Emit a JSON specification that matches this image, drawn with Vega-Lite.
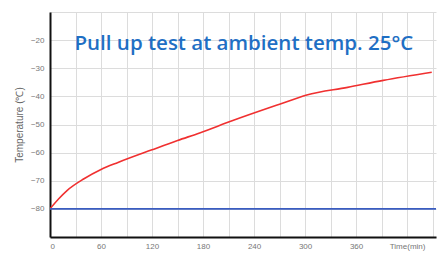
{
  "$schema": "https://vega.github.io/schema/vega-lite/v6.json",
  "width": 386,
  "height": 225,
  "autosize": {"type": "none"},
  "padding": {"left": 50, "top": 12, "right": 6, "bottom": 19},
  "background": "white",
  "config": {"view": {"stroke": null}, "axis": {"labelOverlap": false}},
  "datasets": {
    "curves": [
      {"t": 0, "temp": -80, "series": "Pull up"},
      {"t": 10, "temp": -76.5, "series": "Pull up"},
      {"t": 20, "temp": -73.5, "series": "Pull up"},
      {"t": 40, "temp": -69.3, "series": "Pull up"},
      {"t": 60, "temp": -66, "series": "Pull up"},
      {"t": 80, "temp": -63.5, "series": "Pull up"},
      {"t": 120, "temp": -59, "series": "Pull up"},
      {"t": 150, "temp": -55.7, "series": "Pull up"},
      {"t": 176, "temp": -53, "series": "Pull up"},
      {"t": 215, "temp": -48.6, "series": "Pull up"},
      {"t": 270, "temp": -42.8, "series": "Pull up"},
      {"t": 302, "temp": -39.5, "series": "Pull up"},
      {"t": 350, "temp": -36.8, "series": "Pull up"},
      {"t": 392, "temp": -34.3, "series": "Pull up"},
      {"t": 449, "temp": -31.4, "series": "Pull up"},
      {"t": 0, "temp": -80, "series": "Set"},
      {"t": 454, "temp": -80, "series": "Set"}
    ],
    "label": [
      {"t": 228, "temp": -21.4, "text": "Pull up test at ambient temp. 25°C"}
    ]
  },
  "encoding": {
    "x": {
      "field": "t", "type": "quantitative",
      "scale": {"domain": [0, 454], "nice": false, "zero": false},
      "axis": {
        "title": null,
        "values": [0, 30, 60, 90, 120, 150, 180, 210, 240, 270, 300, 330, 360, 390, 420, 450],
        "labelExpr": "datum.value % 60 == 0 ? (datum.value == 420 ? 'Time(min)' : datum.label) : ''",
        "grid": true, "gridColor": "#dcdcdc", "gridWidth": 1,
        "domainColor": "#111", "domainWidth": 2,
        "ticks": false, "labelPadding": 5,
        "labelFontSize": 8, "labelColor": "#777", "labelFont": "Liberation Sans",
        "labelOverlap": false
      }
    },
    "y": {
      "field": "temp", "type": "quantitative",
      "scale": {"domain": [-90, -10], "nice": false, "zero": false},
      "axis": {
        "title": "Temperature (℃)",
        "titleFontSize": 10, "titleFontWeight": "normal", "titleColor": "#666",
        "titleFont": "Liberation Sans", "titlePadding": 6,
        "values": [-90, -80, -70, -60, -50, -40, -30, -20, -10],
        "labelExpr": "datum.value >= -80 && datum.value <= -20 ? datum.label : ''",
        "labelOverlap": false,
        "labelFlush": false,
        "grid": true, "gridColor": "#dcdcdc", "gridWidth": 1,
        "domainColor": "#111", "domainWidth": 2,
        "ticks": false, "labelPadding": 6,
        "labelFontSize": 8, "labelColor": "#777", "labelFont": "Liberation Sans"
      }
    }
  },
  "layer": [
    {
      "data": {"name": "curves"},
      "mark": {"type": "line", "strokeWidth": 1.6, "interpolate": "monotone", "clip": true},
      "encoding": {
        "color": {
          "field": "series", "type": "nominal",
          "scale": {"domain": ["Pull up", "Set"], "range": ["#f03030", "#3a5cc0"]},
          "legend": null
        }
      }
    },
    {
      "data": {"name": "label"},
      "mark": {"type": "text", "font": "Open Sans", "fontSize": 20.5, "fontWeight": 600, "color": "#1f6fc4", "align": "center", "baseline": "middle"},
      "encoding": {
        "text": {"field": "text"}
      }
    }
  ]
}
